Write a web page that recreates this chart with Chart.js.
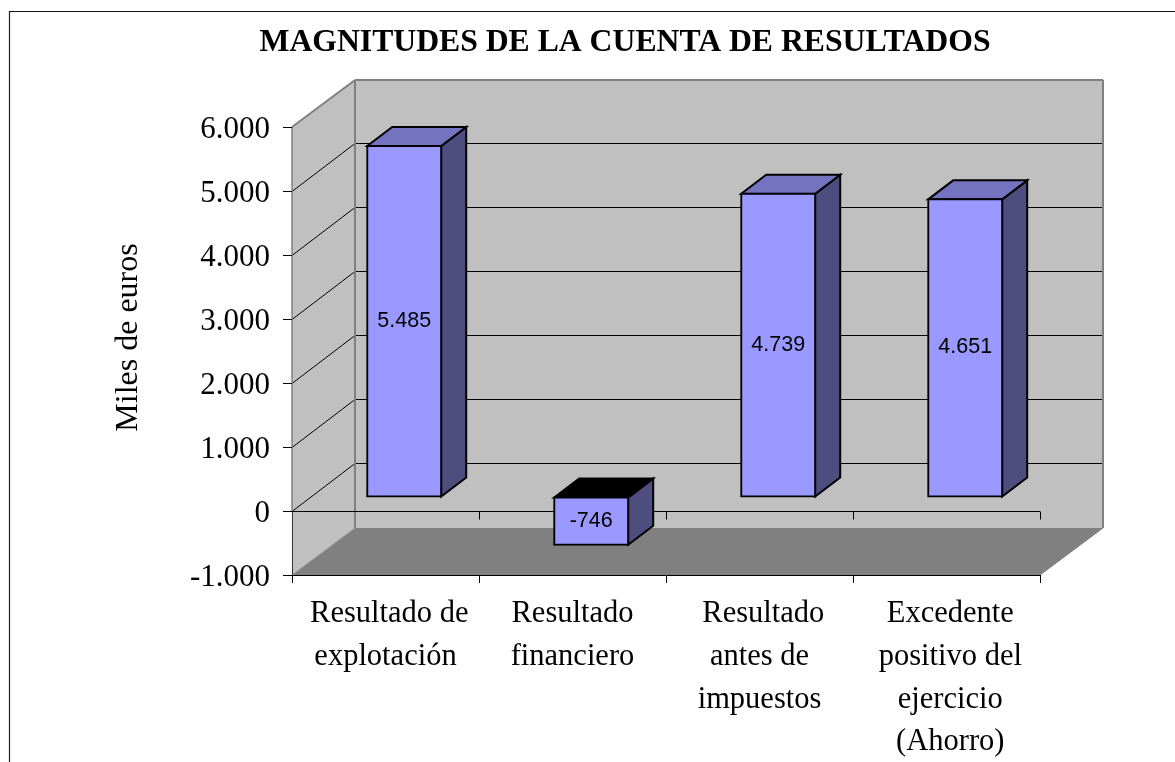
<!DOCTYPE html>
<html><head><meta charset="utf-8">
<style>html,body{margin:0;padding:0;background:#fff;overflow:hidden}canvas{display:block}</style>
<script src="https://cdn.jsdelivr.net/npm/chart.js@4"></script></head>
<body><canvas id="c" width="1175" height="762"></canvas>
<script>
const chartTitle = "MAGNITUDES DE LA CUENTA DE RESULTADOS";
const axisTitle = "Miles de euros";
const categories = [
  [" Resultado de","explotación"],
  ["Resultado","financiero"],
  [" Resultado","antes de","impuestos"],
  [" Excedente"," positivo del"," ejercicio"," (Ahorro)"]
];
const values = [5485,-746,4739,4651];
const valueLabels = ["5.485","-746","4.739","4.651"];
const yMin = -1000, yMax = 6000, yStep = 1000;

const wallDepth = {x:63, y:-47};
const barShift = {x:18.7, y:-14};
const barDepth = {x:25, y:-19};
const serif = '"Liberation Serif","Times New Roman",serif';
const sans = '"Liberation Sans",Arial,sans-serif';

function poly(ctx,pts,fill,stroke,lw){
  ctx.beginPath();pts.forEach((p,i)=>i?ctx.lineTo(p[0],p[1]):ctx.moveTo(p[0],p[1]));ctx.closePath();
  if(fill){ctx.fillStyle=fill;ctx.fill();}
  if(stroke){ctx.strokeStyle=stroke;ctx.lineWidth=lw;ctx.lineJoin='miter';ctx.stroke();}
}
function seg(ctx,x1,y1,x2,y2,c,lw){ctx.beginPath();ctx.moveTo(x1,y1);ctx.lineTo(x2,y2);ctx.strokeStyle=c;ctx.lineWidth=lw;ctx.stroke();}

const scene = {
  id:'scene',
  beforeDraw(chart){
    const {ctx,chartArea:a,scales:{x,y}}=chart, dx=wallDepth.x, dy=wallDepth.y;
    ctx.save();
    ctx.fillStyle='#fff';ctx.fillRect(0,0,chart.width,chart.height);
    seg(ctx,9.5,762,9.5,11.5,'#222',1.2);seg(ctx,9,11.5,1175,11.5,'#111',1.2);
    const t=a.top,b=a.bottom,l=a.left,r=a.right;
    // side wall and back wall
    poly(ctx,[[l,t],[l+dx,t+dy],[l+dx,b+dy],[l,b]],'#c0c0c0');
    poly(ctx,[[l+dx,t+dy],[r+dx,t+dy],[r+dx,b+dy],[l+dx,b+dy]],'#c0c0c0');
    // gridlines
    for(let v=yMin+yStep;v<yMax;v+=yStep){
      const py=Math.round(y.getPixelForValue(v))+.5;
      seg(ctx,l,py,l+dx,py-48,'#000',1);
      seg(ctx,l+dx,py-48,r+dx,py-48,'#000',1);
    }
    // wall edges
    seg(ctx,l,t,l+dx,t+dy,'#808080',2);
    seg(ctx,l+dx,t+dy,r+dx,t+dy,'#808080',2);
    seg(ctx,l+dx,t+dy,l+dx,b+dy,'#808080',2);
    seg(ctx,r+dx,t+dy,r+dx,b+dy,'#808080',2);
    seg(ctx,l,t,l,y.getPixelForValue(0),'#808080',1.5);
    // floor
    poly(ctx,[[l,b],[l+dx,b+dy],[r+dx,b+dy],[r,b]],'#808080');
    seg(ctx,l,b,l+dx,b+dy,'#999',1);
    seg(ctx,r,b,r+dx,b+dy,'#808080',1);
    // zero plane line with category ticks
    const z=Math.round(y.getPixelForValue(0))+.5;
    seg(ctx,l,z,r,z,'#000',1.2);
    const w=x.getPixelForValue(1)-x.getPixelForValue(0);
    for(let i=0;i<=categories.length;i++){
      const px=Math.round(x.getPixelForValue(i)-w/2)+.5;
      seg(ctx,px,z,px,z+8,'#000',1);
    }
    seg(ctx,l+.5,z,l+.5,b,'#333',1);
    ctx.restore();
  },
  beforeDatasetDraw(chart,args){
    const ctx=chart.ctx;
    ctx.save();
    ctx.translate(barShift.x,barShift.y);
    args.meta.data.forEach((bar,i)=>{
      const p=bar.getProps(['x','y','base','width'],true);
      const hw=p.width/2, dx=barDepth.x, dy=barDepth.y;
      const L=p.x-hw,R=p.x+hw,T=Math.min(p.y,p.base),B=Math.max(p.y,p.base);
      poly(ctx,[[R,T],[R+dx,T+dy],[R+dx,B+dy],[R,B]],'#4d4d80','#000',2);
      const topFill=values[i]<0?'#000':'#7373bf';
      poly(ctx,[[L,T],[L+dx,T+dy],[R+dx,T+dy],[R,T]],topFill,'#000',2);
    });
  },
  afterDatasetDraw(chart){chart.ctx.restore();},
  afterDatasetsDraw(chart){
    const {ctx}=chart, meta=chart.getDatasetMeta(0);
    ctx.save();
    ctx.fillStyle='#000';ctx.textAlign='center';ctx.textBaseline='middle';
    ctx.font='21.5px '+sans;
    meta.data.forEach((bar,i)=>{
      const p=bar.getProps(['x','y','base'],true);
      ctx.fillText(valueLabels[i],p.x+barShift.x,(p.y+p.base)/2+barShift.y-0.5);
    });
    ctx.font='bold 31.7px '+serif;
    ctx.textBaseline='alphabetic';
    ctx.fillText(chartTitle,625,51);
    ctx.textBaseline='middle';
    ctx.font='32px '+serif;
    ctx.translate(128.5,337.5);ctx.rotate(-Math.PI/2);
    ctx.fillText(axisTitle,0,0);
    ctx.restore();
  }
};

new Chart(document.getElementById('c'),{
  type:'bar',
  data:{labels:categories,datasets:[{
    data:values,backgroundColor:'#9999ff',borderColor:'#000',borderWidth:2,borderSkipped:false,
    inflateAmount:1,categoryPercentage:1,barPercentage:0.3957,clip:false
  }]},
  plugins:[scene],
  options:{
    responsive:false,animation:false,
    layout:{padding:{left:0,right:135,top:127,bottom:0}},
    plugins:{legend:{display:false},tooltip:{enabled:false},title:{display:false}},
    scales:{
      x:{
        afterFit(s){s.height=187;},
        grid:{display:true,drawOnChartArea:false,drawTicks:true,tickLength:8,color:'#000',offset:true},
        border:{display:true,color:'#000',width:1},
        ticks:{color:'#000',font:{family:serif,size:30.5,lineHeight:1.4},padding:10,maxRotation:0,autoSkip:false}
      },
      y:{
        min:yMin,max:yMax,
        afterFit(s){s.width=292;},
        grid:{display:true,drawOnChartArea:false,drawTicks:true,tickLength:9,color:'#000'},
        border:{display:false},
        ticks:{stepSize:yStep,color:'#000',font:{family:serif,size:31},padding:13,labelOffset:3,
          callback:v=>String(v).replace(/\B(?=(\d{3})+$)/,'.')}
      }
    }
  }
});
</script></body></html>
